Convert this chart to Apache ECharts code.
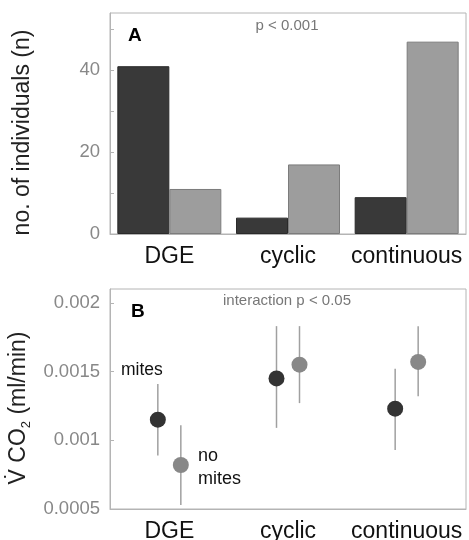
<!DOCTYPE html>
<html>
<head>
<meta charset="utf-8">
<script src="https://cdn.jsdelivr.net/npm/echarts@6/dist/echarts.min.js"></script>
<style>
  html, body { margin: 0; padding: 0; background: #fff; }
  #chart { width: 469px; height: 540px; }
</style>
</head>
<body>
<div id="chart"></div>
<script>
// categories shared by both panels
const categories = ['DGE', 'cyclic', 'continuous'];

// panel A: number of individuals
const miteCounts = [41, 4, 9];
const noMiteCounts = [11, 17, 47];

// panel B: VCO2 means and error bar ends
const vco2Mites = [0.00115, 0.00145, 0.00123];
const vco2MitesLow = [0.00089, 0.00109, 0.00093];
const vco2MitesHigh = [0.00141, 0.00183, 0.00152];
const vco2NoMites = [0.00082, 0.00155, 0.00157];
const vco2NoMitesLow = [0.00053, 0.00127, 0.00132];
const vco2NoMitesHigh = [0.00111, 0.00183, 0.00183];

const FONT = "'Liberation Sans', Arial, sans-serif";
const DARK = '#393939';
const GRAY = '#9d9d9d';
const FRAME = '#b4b4b4';

function pointData(means, lows, highs) {
    return means.map((m, i) => [i, m, lows[i], highs[i]]);
}

function pointSeries(name, data, color, offset) {
    return {
        name: name,
        type: 'custom',
        xAxisIndex: 1,
        yAxisIndex: 1,
        data: data,
        encode: { x: 0, y: 1 },
        renderItem: (params, api) => {
            const c = api.coord([api.value(0), api.value(1)]);
            const lo = api.coord([api.value(0), api.value(2)]);
            const hi = api.coord([api.value(0), api.value(3)]);
            const x = c[0] + offset;
            return {
                type: 'group',
                children: [
                    { type: 'line', shape: { x1: x, y1: lo[1], x2: x, y2: hi[1] },
                      style: { stroke: '#a0a0a0', lineWidth: 1.5 } },
                    { type: 'circle', shape: { cx: x, cy: c[1], r: 8 },
                      style: { fill: color } }
                ]
            };
        }
    };
}

const xAxisBase = {
    type: 'category',
    data: categories,
    boundaryGap: true,
    axisLine: { lineStyle: { color: FRAME } },
    axisTick: { inside: true, length: 4, lineStyle: { color: FRAME } },
    axisLabel: { color: '#111', fontSize: 23, fontFamily: FONT, margin: 11, interval: 0 }
};

const yAxisBase = {
    type: 'value',
    nameLocation: 'middle',
    splitLine: { show: false },
    axisLine: { show: true, lineStyle: { color: FRAME } },
    axisTick: { show: true, inside: true, length: 4, lineStyle: { color: FRAME } }
};

const option = {
    animation: false,
    grid: [
        { left: 110, right: 3, top: 13, bottom: 306, outerBoundsMode: 'none', containLabel: false,
          show: true, borderColor: FRAME, borderWidth: 1 },
        { left: 110, right: 3, top: 289, bottom: 31, outerBoundsMode: 'none', containLabel: false,
          show: true, borderColor: FRAME, borderWidth: 1 }
    ],
    xAxis: [
        Object.assign({ gridIndex: 0 }, xAxisBase),
        Object.assign({ gridIndex: 1 }, xAxisBase)
    ],
    yAxis: [
        Object.assign({}, yAxisBase, {
            gridIndex: 0,
            min: 0,
            max: 54,
            interval: 10,
            name: 'no. of individuals (n)',
            nameGap: 76,
            nameTextStyle: { color: '#222', fontSize: 23, fontFamily: FONT, padding: [0, 18, 0, 0] },
            axisLabel: {
                color: '#888', fontSize: 18.5, fontFamily: FONT, margin: 10,
                showMaxLabel: false,
                formatter: v => (v % 20 === 0 ? String(v) : '')
            }
        }),
        Object.assign({}, yAxisBase, {
            gridIndex: 1,
            min: 0.0005,
            max: 0.0021,
            interval: 0.0005,
            name: 'V\u0307 CO{sub|2} (ml/min)',
            nameGap: 76,
            nameTextStyle: {
                color: '#222', fontSize: 23, fontFamily: FONT, lineHeight: 28,
                padding: [0, 18, 0, 0],
                rich: {
                    sub: { fontSize: 13, lineHeight: 13, verticalAlign: 'bottom', color: '#222', fontFamily: FONT }
                }
            },
            axisLabel: {
                color: '#888', fontSize: 18.5, fontFamily: FONT, margin: 10,
                showMaxLabel: false,
                formatter: v => String(+v.toFixed(4))
            }
        })
    ],
    series: [
        {
            name: 'mites',
            type: 'bar',
            xAxisIndex: 0,
            yAxisIndex: 0,
            data: miteCounts,
            barWidth: 52,
            barGap: '0%',
            itemStyle: { color: DARK, borderColor: '#2a2a2a', borderWidth: 1 }
        },
        {
            name: 'no mites',
            type: 'bar',
            xAxisIndex: 0,
            yAxisIndex: 0,
            data: noMiteCounts,
            barWidth: 52,
            barGap: '0%',
            itemStyle: { color: GRAY, borderColor: '#7c7c7c', borderWidth: 1 }
        },
        pointSeries('mites', pointData(vco2Mites, vco2MitesLow, vco2MitesHigh), '#333333', -11.5),
        pointSeries('no mites', pointData(vco2NoMites, vco2NoMitesLow, vco2NoMitesHigh), '#888888', 11.5)
    ],
    graphic: [
        // panel A annotations
        { type: 'text', left: 128, top: 26, style: { text: 'A', font: 'bold 19px ' + FONT, fill: '#000' } },
        { type: 'text', style: { x: 287, y: 26, text: 'p < 0.001', font: '15px ' + FONT, fill: '#777', align: 'center', verticalAlign: 'middle' } },
        { type: 'text', style: { x: 143, y: 112, text: 'mites', font: '18px ' + FONT, fill: '#fff', align: 'center', verticalAlign: 'middle' } },
        { type: 'text', style: { x: 434, y: 119, text: 'no\nmites', font: '18px ' + FONT, lineHeight: 23, fill: '#222', align: 'center', verticalAlign: 'middle' } },
        // panel B annotations
        { type: 'text', left: 131, top: 302, style: { text: 'B', font: 'bold 19px ' + FONT, fill: '#000' } },
        { type: 'text', style: { x: 287, y: 301, text: 'interaction p < 0.05', font: '15px ' + FONT, fill: '#777', align: 'center', verticalAlign: 'middle' } },
        { type: 'text', style: { x: 121, y: 370, text: 'mites', font: '17.5px ' + FONT, fill: '#111', align: 'left', verticalAlign: 'middle' } },
        { type: 'text', style: { x: 198, y: 468, text: 'no\nmites', font: '18px ' + FONT, lineHeight: 23, fill: '#111', align: 'left', verticalAlign: 'middle' } }
    ]
};

const chart = echarts.init(document.getElementById('chart'));
chart.setOption(option);
window.addEventListener('resize', () => chart.resize());
</script>
</body>
</html>
